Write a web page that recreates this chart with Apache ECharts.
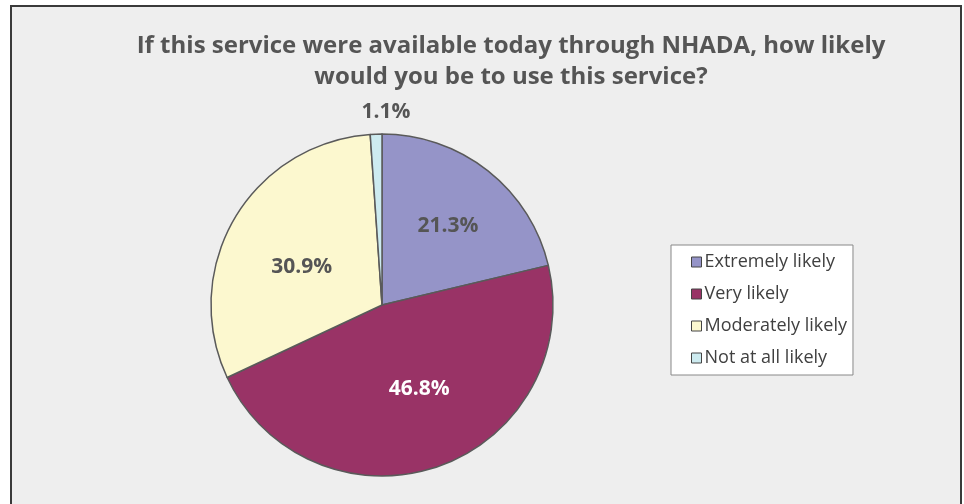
<!DOCTYPE html>
<html><head><meta charset="utf-8">
<script src="https://cdn.jsdelivr.net/npm/echarts@6/dist/echarts.min.js"></script>
<style>
html,body{margin:0;padding:0;background:#fff;}
#frame{position:absolute;left:10px;top:5px;width:948px;height:520px;border:2px solid #3a3a3a;background:#eeeeee;}
#chart{position:absolute;left:0;top:0;width:964px;height:504px;}
</style></head>
<body>
<div id="frame"></div>
<div id="chart"></div>
<script>
const categories = ['Extremely likely', 'Very likely', 'Moderately likely', 'Not at all likely'];
const values = [21.3, 46.8, 30.9, 1.1];
const colors = ['#9594c8', '#993366', '#fcf8cf', '#cdebf0'];
const labelColors = ['#555555', '#ffffff', '#555555', '#555555'];
const labelOffsets = [[11, -10], [8, 0], [-4, 7], [7, -105]];

const chart = echarts.init(document.getElementById('chart'), null, {renderer: 'canvas'});
const font = '"Open Sans", Lato, sans-serif';
chart.setOption({
  backgroundColor: 'transparent',
  animation: false,
  title: {
    text: 'If this service were available today through NHADA, how likely\nwould you be to use this service?',
    left: 506, top: 26, textAlign: 'center',
    textStyle: {fontFamily: font, fontSize: 24, fontWeight: 'bold', color: '#555555', lineHeight: 31}
  },
  legend: {
    orient: 'vertical',
    left: 671, top: 245,
    padding: [8, 6, 8, 20],
    backgroundColor: '#ffffff',
    borderColor: '#888888', borderWidth: 1,
    itemWidth: 10, itemHeight: 10, itemGap: 14,
    icon: 'rect',
    data: categories,
    textStyle: {fontFamily: font, fontSize: 18, color: '#404040', padding: [0, 0, 0, -2]},
    itemStyle: {borderColor: '#444', borderWidth: 1}
  },
  series: [{
    type: 'pie',
    center: [382, 305],
    radius: 171,
    startAngle: 90,
    clockwise: true,
    avoidLabelOverlap: false,
    labelLine: {show: false},
    itemStyle: {borderColor: '#5a5a5a', borderWidth: 1.5},
    emphasis: {disabled: true},
    data: categories.map((c, i) => ({
      name: c, value: values[i],
      itemStyle: {color: colors[i]},
      label: {
        show: true, position: 'inside',
        formatter: v => v.value.toFixed(1) + '%',
        color: labelColors[i], fontFamily: font, fontSize: 21, fontWeight: 'bold',
        offset: labelOffsets[i]
      }
    }))
  }]
});
</script>
</body></html>
